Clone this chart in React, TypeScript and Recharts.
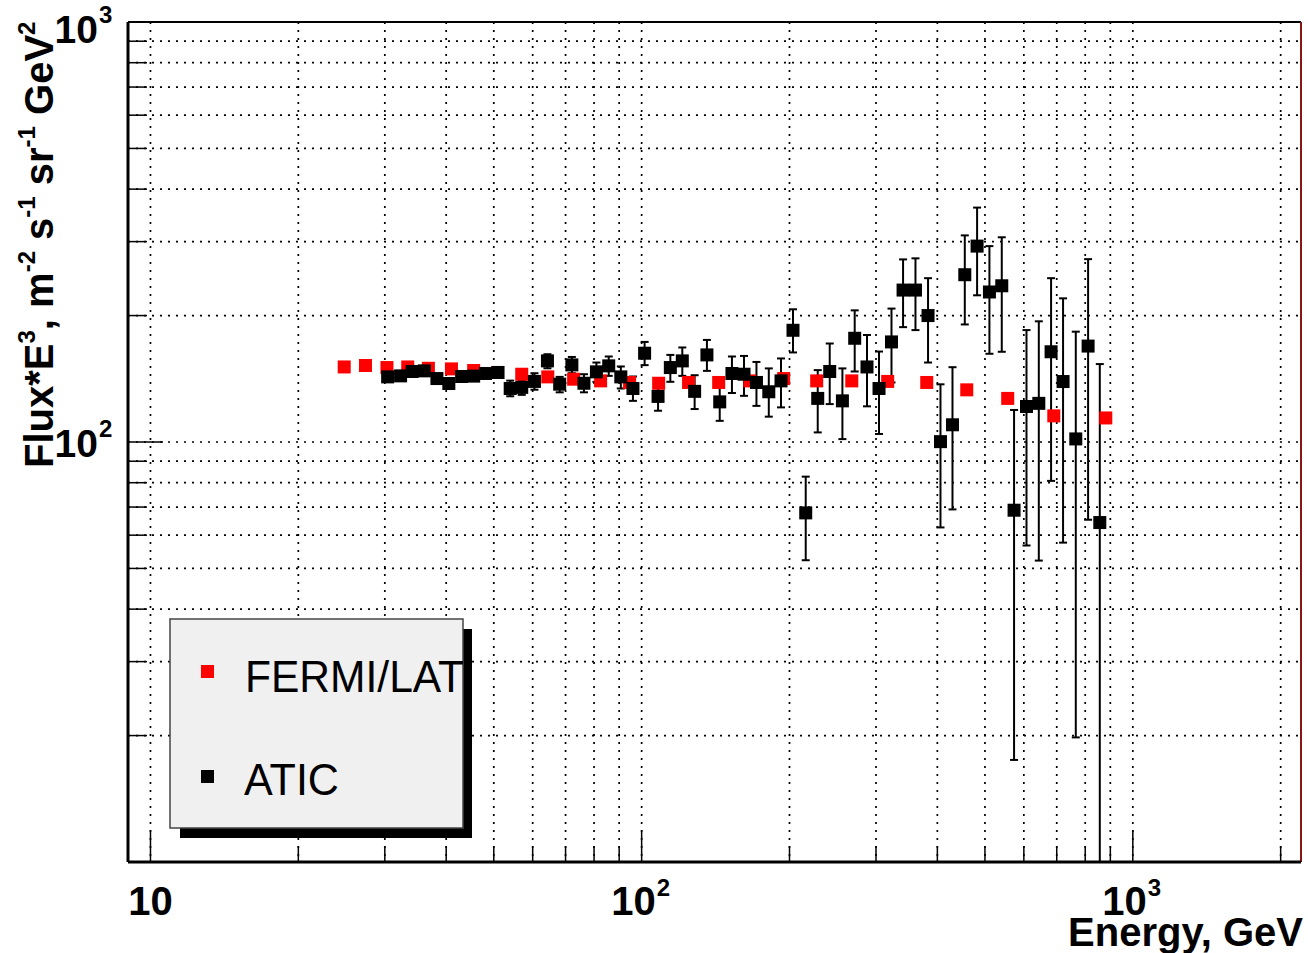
import React from "react";
import {
  ScatterChart,
  Scatter,
  XAxis,
  YAxis,
  CartesianGrid,
  ErrorBar,
  ReferenceLine,
  Customized,
} from "recharts";

const FONT = "'Liberation Sans', Arial, Helvetica, sans-serif";

// FERMI/LAT: energy (GeV) and Flux*E^3
const fermiEnergy = [
  24.8, 27.4, 30.3, 33.4, 36.8, 41.0, 45.5, 50.9, 57.0, 64.4, 72.7, 82.5, 94.5,
  108.3, 124.6, 143.5, 166.0, 194.6, 227.2, 267.8, 316.9, 380.6, 459.1, 556.3,
  690.4, 881.0,
];
const fermiFlux = [
  150.9, 152.1, 150.4, 150.9, 149.8, 149.3, 148.0, 146.4, 145.0, 142.9, 141.1,
  139.8, 138.6, 138.0, 138.6, 138.6, 139.8, 141.6, 139.8, 139.8, 139.4, 138.6,
  133.1, 127.0, 115.4, 114.1,
];

// ATIC: energy (GeV), Flux*E^3 and the ends of the error bars
const aticEnergy = [
  30.4, 32.3, 34.1, 36.1, 38.3, 40.5, 43.0, 45.5, 48.1, 51.0, 54.0, 57.0, 60.5,
  64.3, 68.1, 72.1, 76.3, 80.9, 85.7, 90.7, 96.0, 101.4, 108.0, 114.4, 121.0,
  128.2, 135.8, 144.2, 152.7, 161.6, 171.3, 181.5, 192.2, 203.3, 215.8, 228.3,
  241.5, 256.3, 271.5, 287.6, 304.3, 322.6, 340.6, 361.0, 382.9, 405.9, 429.4,
  454.9, 481.9, 510.6, 541.0, 573.1, 607.5, 643.6, 681.7, 721.1, 765.4, 810.9,
  856.6,
];
const aticFlux = [
  142.9, 143.7, 147.2, 147.7, 141.6, 137.8, 143.2, 143.5, 145.6, 146.4, 134.1,
  134.9, 139.4, 156.0, 137.3, 152.6, 138.0, 146.9, 151.8, 142.9, 134.1, 162.7,
  128.4, 150.4, 156.0, 132.0, 161.2, 124.6, 145.6, 145.0, 138.6, 131.7, 139.8,
  184.5, 67.8, 127.0, 147.2, 125.3, 176.6, 150.9, 134.1, 173.1, 230.0, 230.0,
  200.0, 100.2, 109.9, 250.2, 292.7, 227.6, 235.5, 68.8, 121.5, 123.6, 164.0,
  139.3, 101.7, 169.2, 64.3,
];
const aticLow = [
  139.5, 140.3, 143.7, 144.2, 138.2, 134.5, 139.8, 140.1, 142.1, 142.9, 128.5,
  129.5, 133.2, 149.8, 131.3, 145.8, 131.3, 139.1, 143.7, 134.1, 125.3, 152.4,
  118.7, 139.1, 143.7, 119.8, 147.7, 112.3, 130.8, 128.8, 121.9, 114.9, 120.9,
  163.4, 52.3, 105.4, 123.1, 101.6, 147.2, 121.6, 104.5, 138.6, 187.7, 184.7,
  154.6, 62.6, 69.1, 190.5, 223.5, 162.2, 164.0, 17.5, 56.7, 52.2, 80.8, 57.6,
  19.8, 65.3, 10.0,
];
const aticHigh = [
  146.5, 147.3, 150.9, 151.4, 145.1, 141.2, 146.8, 147.1, 149.2, 150.1, 140.0,
  140.4, 145.8, 161.8, 142.9, 159.4, 145.0, 154.6, 159.8, 151.3, 143.2, 173.1,
  138.0, 161.2, 167.9, 144.2, 175.0, 137.3, 159.8, 160.3, 155.1, 149.7, 158.1,
  207.0, 82.7, 148.3, 171.6, 149.7, 205.8, 179.8, 164.2, 207.8, 272.1, 273.7,
  245.5, 137.2, 150.7, 310.4, 361.5, 292.7, 307.2, 119.2, 184.7, 193.8, 245.5,
  219.8, 183.1, 272.5, 153.3,
];

// axis ticks
const xTicks = [10, 20, 30, 40, 50, 60, 70, 80, 90, 100, 200, 300, 400, 500, 600, 700, 800, 900, 1000, 2000];
const xMajor = [10, 100, 1000];
const yTicks = [20, 30, 40, 50, 60, 70, 80, 90, 100, 200, 300, 400, 500, 600, 700, 800, 900, 1000];
const yMajor = [100, 1000];

const fermiData = fermiEnergy.map((e, i) => ({ e, f: fermiFlux[i] }));
const aticData = aticEnergy.map((e, i) => ({
  e,
  f: aticFlux[i],
  err: [aticFlux[i] - aticLow[i], aticHigh[i] - aticFlux[i]],
}));

const square = (color: string) => (props: any) => (
  <rect x={props.cx - 6.5} y={props.cy - 6.5} width={13} height={13} fill={color} />
);

const XTick = (props: any) => {
  const { x, y, payload } = props;
  const v = payload.value;
  const major = xMajor.includes(v);
  let label = null;
  if (v === 10) {
    label = (
      <text x={x} y={y + 53} textAnchor="middle" fontFamily={FONT} fontWeight="bold" fontSize={40}>
        10
      </text>
    );
  } else if (major) {
    label = (
      <g fontFamily={FONT} fontWeight="bold">
        <text x={x + 14} y={y + 53} textAnchor="end" fontSize={40}>10</text>
        <text x={x + 15} y={y + 34} fontSize={24}>{v === 100 ? "2" : "3"}</text>
      </g>
    );
  }
  return (
    <g>
      <line x1={x} x2={x} y1={y} y2={y - (major ? 32 : 16)} stroke="#000" strokeWidth={1.5} />
      {label}
    </g>
  );
};

const YTick = (props: any) => {
  const { x, y, payload } = props;
  const v = payload.value;
  const major = yMajor.includes(v);
  const shift = v === 1000 ? 6 : 0;
  return (
    <g>
      <line x1={x} x2={x + (major ? 35 : 19)} y1={y} y2={y} stroke="#000" strokeWidth={1.5} />
      {major && (
        <g fontFamily={FONT} fontWeight="bold">
          <text x={x - 30} y={y + 15 + shift} textAnchor="end" fontSize={39}>10</text>
          <text x={x - 29} y={y - 5 + shift} fontSize={24}>{v === 100 ? "2" : "3"}</text>
        </g>
      )}
    </g>
  );
};

const Titles = () => (
  <g fontFamily={FONT} fontWeight="bold" fill="#000">
    <text transform="translate(53,468) rotate(-90)" fontSize={40}>
      <tspan>Flux*E</tspan>
      <tspan fontSize={24} dy={-18}>3</tspan>
      <tspan dy={18}>, m</tspan>
      <tspan fontSize={24} dy={-18}>-2</tspan>
      <tspan dy={18}> s</tspan>
      <tspan fontSize={24} dy={-18}>-1</tspan>
      <tspan dy={18}> sr</tspan>
      <tspan fontSize={24} dy={-18}>-1</tspan>
      <tspan dy={18}> GeV</tspan>
      <tspan fontSize={24} dy={-18}>2</tspan>
    </text>
    <text x={1303} y={946} textAnchor="end" fontSize={40}>
      Energy, GeV
    </text>
  </g>
);

const LegendBox = () => (
  <g fontFamily={FONT}>
    <defs>
      <clipPath id="legclip">
        <rect x={170} y={619} width={293} height={209} />
      </clipPath>
    </defs>
    <rect x={180} y={629} width={292} height={209} fill="#000" />
    <rect x={170} y={619} width={293} height={209} fill="#f0f0f0" stroke="#444" strokeWidth={1.5} />
    <g clipPath="url(#legclip)">
      <rect x={201} y={665} width={13} height={13} fill="#ff0000" />
      <text x={245} y={692} fontSize={44} textLength={219} lengthAdjust="spacingAndGlyphs">
        FERMI/LAT
      </text>
      <rect x={201} y={770} width={13} height={13} fill="#000" />
      <text x={244} y={795} fontSize={44} textLength={95} lengthAdjust="spacingAndGlyphs">
        ATIC
      </text>
    </g>
  </g>
);

export default function App() {
  return (
    <div style={{ position: "absolute", left: 0, top: 0, background: "#fff" }}>
      <ScatterChart width={1308} height={953} margin={{ top: 22, right: 7, bottom: 0, left: 0 }}>
        <CartesianGrid stroke="#000" strokeWidth={1.7} strokeDasharray="2 6" />
        <XAxis
          dataKey="e"
          type="number"
          scale="log"
          domain={[9, 2200]}
          allowDataOverflow
          ticks={xTicks}
          interval={0}
          height={91}
          tickSize={0}
          tickMargin={0}
          tickLine={false}
          axisLine={{ stroke: "#000", strokeWidth: 3 }}
          tick={<XTick />}
        />
        <YAxis
          dataKey="f"
          type="number"
          scale="log"
          domain={[10, 1000]}
          allowDataOverflow
          ticks={yTicks}
          interval={0}
          width={128}
          tickSize={0}
          tickMargin={0}
          tickLine={false}
          axisLine={{ stroke: "#000", strokeWidth: 3 }}
          tick={<YTick />}
        />
        <ReferenceLine y={1000} stroke="#000" strokeWidth={2} />
        <ReferenceLine x={2200} stroke="#8a1515" strokeWidth={2} />
        <Scatter data={fermiData} shape={square("#ff0000")} isAnimationActive={false} />
        <Scatter data={aticData} shape={square("#000")} isAnimationActive={false}>
          <ErrorBar dataKey="err" direction="y" width={4} strokeWidth={2} stroke="#000" />
        </Scatter>
        <Customized component={<Titles />} />
        <Customized component={<LegendBox />} />
      </ScatterChart>
    </div>
  );
}
